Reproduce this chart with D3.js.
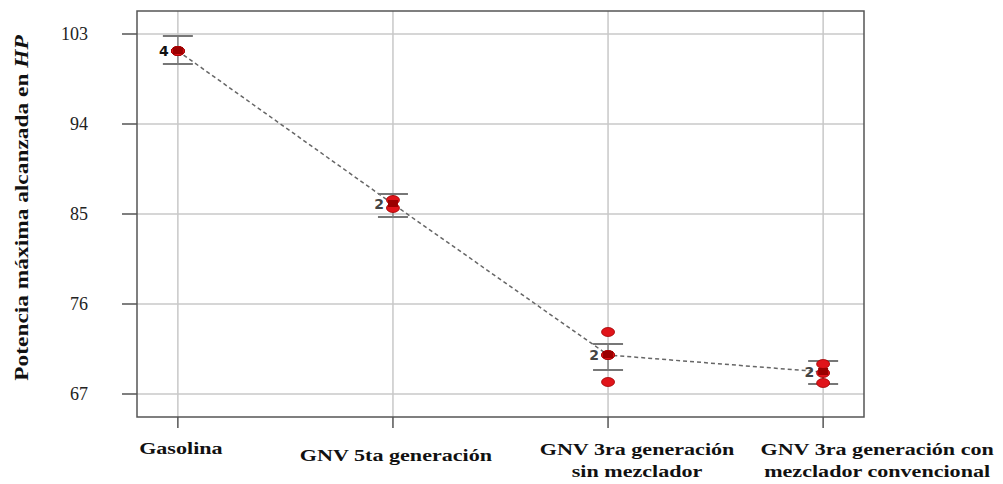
<!DOCTYPE html>
<html>
<head>
<meta charset="utf-8">
<script src="https://cdn.jsdelivr.net/npm/d3@7"></script>
<style>
  body { margin: 0; background: #fff; }
  text { font-family: "Liberation Serif", "Times New Roman", serif; }
</style>
</head>
<body>
<svg width="1003" height="484"></svg>
<script>
// Potencia maxima por tipo de combustible

var categories = ["Gasolina", "GNV 5ta generación", "GNV 3ra generación|sin mezclador", "GNV 3ra generación con|mezclador convencional"];
var counts = [4, 2, 2, 2];
var means = [101.3, 86.0, 70.9, 69.2];
var errLow = [100.0, 84.7, 69.4, 68.0];
var errHigh = [102.8, 87.0, 72.0, 70.3];
var points = [
  [101.3, 101.3, 101.3, 101.3],
  [86.4, 85.6],
  [73.2, 70.9, 70.9, 68.2],
  [70.0, 69.1, 68.1]
];
var yTicks = [67, 76, 85, 94, 103];
var labelShift = [3, 3, 29, 54];

var svg = d3.select("svg"),
    margin = {top: 11, right: 139, bottom: 67, left: 137},
    width = +svg.attr("width") - margin.left - margin.right,
    height = +svg.attr("height") - margin.top - margin.bottom,
    g = svg.append("g").attr("transform", "translate(" + margin.left + "," + margin.top + ")");

var x = d3.scaleLinear().domain([0.81, 4.19]).range([0, width]);
var y = d3.scaleLinear().domain([64.7, 105.3]).range([height, 0]);

// grid
g.selectAll(".hgrid").data(yTicks).enter().append("line")
    .attr("x1", 0).attr("x2", width)
    .attr("y1", function(d) { return y(d); }).attr("y2", function(d) { return y(d); })
    .attr("stroke", "#c8c8c8").attr("stroke-width", 1.5);

g.selectAll(".vgrid").data(categories).enter().append("line")
    .attr("x1", function(d, i) { return x(i + 1); }).attr("x2", function(d, i) { return x(i + 1); })
    .attr("y1", 0).attr("y2", height)
    .attr("stroke", "#c8c8c8").attr("stroke-width", 1.5);

// box
g.append("rect")
    .attr("width", width).attr("height", height)
    .attr("fill", "none").attr("stroke", "#555").attr("stroke-width", 1.5);

// y axis
var yAxis = g.append("g")
    .attr("transform", "translate(-15,0)")
    .call(d3.axisLeft(y).tickValues(yTicks).tickSize(0).tickPadding(34));
yAxis.select(".domain").remove();
yAxis.selectAll("text").attr("font-size", "18px").attr("fill", "#222")
    .style("font-family", "'Liberation Serif', serif");
g.selectAll(".ytick").data(yTicks).enter().append("line")
    .attr("x1", -15).attr("x2", 0)
    .attr("y1", function(d) { return y(d); }).attr("y2", function(d) { return y(d); })
    .attr("stroke", "#555").attr("stroke-width", 1.5);

// x ticks + labels
g.selectAll(".xtick").data(categories).enter().append("line")
    .attr("x1", function(d, i) { return x(i + 1); }).attr("x2", function(d, i) { return x(i + 1); })
    .attr("y1", height).attr("y2", height + 11)
    .attr("stroke", "#555").attr("stroke-width", 1.5);

var xl = g.selectAll(".xlab").data(categories).enter().append("text")
    .attr("text-anchor", "middle")
    .attr("font-weight", "bold")
    .attr("font-size", "17px")
    .attr("fill", "#111")
    .attr("transform", function(d, i) {
      return "translate(" + (x(i + 1) + labelShift[i]) + "," + (height + (d.indexOf("|") < 0 ? (i == 0 ? 37 : 44) : 38)) + ") scale(1.3,1)";
    });
xl.each(function(d) {
  var t = d3.select(this);
  d.split("|").forEach(function(s, k) {
    t.append("tspan").attr("x", 0).attr("dy", k ? "1.3em" : 0).text(s);
  });
});

// y title
var yt = svg.append("text")
    .attr("transform", "translate(28," + (margin.top + height / 2 - 6) + ") rotate(-90) scale(1.3,1)")
    .attr("text-anchor", "middle")
    .attr("font-weight", "bold")
    .attr("font-size", "18px")
    .attr("fill", "#111");
yt.append("tspan").text("Potencia máxima alcanzada en ");
yt.append("tspan").attr("font-style", "italic").text("HP");

// dashed mean line
var line = d3.line().x(function(d, i) { return x(i + 1); }).y(function(d) { return y(d); });
g.append("path")
    .datum(means)
    .attr("d", line)
    .attr("fill", "none")
    .attr("stroke", "#666")
    .attr("stroke-width", 1.5)
    .attr("stroke-dasharray", "4,3");

// error bars
var eb = g.selectAll(".err").data(means).enter().append("g");
eb.append("line")
    .attr("x1", function(d, i) { return x(i + 1); }).attr("x2", function(d, i) { return x(i + 1); })
    .attr("y1", function(d, i) { return y(errLow[i]); }).attr("y2", function(d, i) { return y(errHigh[i]); })
    .attr("stroke", "#888").attr("stroke-width", 1.5);
eb.selectAll(".cap").data(function(d, i) { return [[i, errLow[i]], [i, errHigh[i]]]; }).enter().append("line")
    .attr("x1", function(d) { return x(d[0] + 1) - 15; }).attr("x2", function(d) { return x(d[0] + 1) + 15; })
    .attr("y1", function(d) { return y(d[1]); }).attr("y2", function(d) { return y(d[1]); })
    .attr("stroke", "#777").attr("stroke-width", 2);

// points
points.forEach(function(vals, i) {
  g.selectAll(".pt" + i).data(vals).enter().append("ellipse")
      .attr("cx", x(i + 1))
      .attr("cy", function(d) { return y(d); })
      .attr("rx", 6.5).attr("ry", 4.5)
      .attr("fill", "#e0141a")
      .attr("stroke", "#a00000").attr("stroke-width", 0.8);
});

// mean markers
g.selectAll(".mean").data(means).enter().append("rect")
    .attr("x", function(d, i) { return x(i + 1) - 5; })
    .attr("y", function(d) { return y(d) - 4; })
    .attr("width", 10).attr("height", 7)
    .attr("fill", "#9b0000");

// count labels
g.selectAll(".cnt").data(counts).enter().append("text")
    .attr("x", function(d, i) { return x(i + 1) - 9; })
    .attr("y", function(d, i) { return y(means[i]) + 5; })
    .attr("text-anchor", "end")
    .attr("font-size", "14px")
    .attr("font-weight", "bold")
    .attr("fill", function(d, i) { return i ? "#444" : "#111"; })
    .style("font-family", "'DejaVu Sans', sans-serif")
    .text(function(d) { return d; });
</script>
</body>
</html>
